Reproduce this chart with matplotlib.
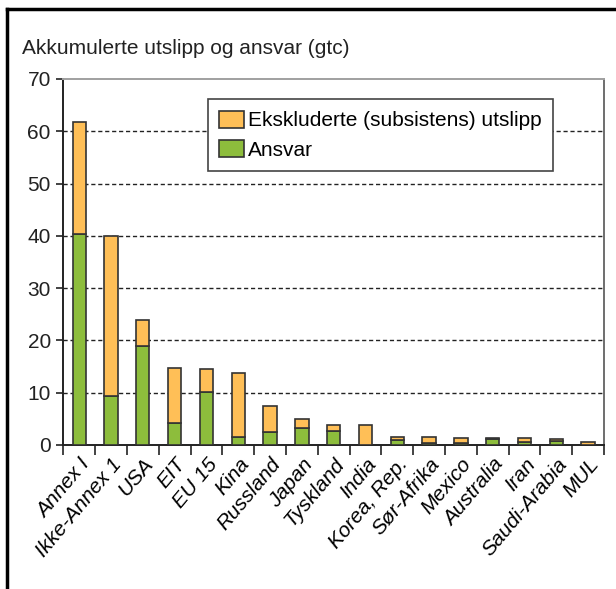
import matplotlib
matplotlib.use('Agg')
import matplotlib.pyplot as plt
import numpy as np
from matplotlib.lines import Line2D

plt.rcParams['font.family'] = ['Liberation Sans', 'DejaVu Sans']

# Data (gtc)
countries = ['Annex I', 'Ikke-Annex 1', 'USA', 'EIT', 'EU 15', 'Kina', 'Russland',
             'Japan', 'Tyskland', 'India', 'Korea, Rep.', 'Sør-Afrika', 'Mexico',
             'Australia', 'Iran', 'Saudi-Arabia', 'MUL']
ansvar = [40.3, 9.4, 18.9, 4.3, 10.2, 1.5, 2.4, 3.2, 2.7, 0.0, 1.0, 0.45, 0.45,
          1.1, 0.5, 0.7, 0.0]
total = [61.8, 40.0, 24.0, 14.7, 14.5, 13.8, 7.5, 4.9, 3.8, 3.8, 1.6, 1.6, 1.3,
         1.3, 1.3, 1.1, 0.5]
ekskludert = [t - a for t, a in zip(total, ansvar)]

orange = '#FFBF57'
green = '#8DBD3C'
edge = '#333333'
fs = 15

fig = plt.figure(figsize=(6.16, 5.89), dpi=100)
ax = fig.add_axes([63.3 / 616, 1 - 445 / 589, 540.7 / 616, 366 / 589])

x = np.arange(len(countries))
ax.bar(x, ansvar, width=0.42, color=green, edgecolor=edge, linewidth=1.2, zorder=3)
ax.bar(x, ekskludert, bottom=ansvar, width=0.42, color=orange, edgecolor=edge,
       linewidth=1.2, zorder=3)

ax.set_xlim(-0.5, len(countries) - 0.5)
ax.set_ylim(0, 70)
ax.set_yticks(range(0, 71, 10))
ax.tick_params(axis='y', labelsize=fs, length=5, width=1.2, pad=4, colors='#222222')

# labels centred under bars, tick marks between bars
ax.set_xticks(x)
ax.set_xticklabels(countries, rotation=50, ha='right', rotation_mode='anchor',
                   fontsize=fs, style='italic')
ax.tick_params(axis='x', which='major', length=0, pad=7)
ax.set_xticks(np.arange(-0.5, len(countries), 1), minor=True)
ax.tick_params(axis='x', which='minor', length=7, width=1.2, colors='#222222')

for y in range(10, 61, 10):
    ax.axhline(y, color='#222222', linestyle=(0, (3, 2)), linewidth=1, zorder=1)

ax.spines['left'].set_linewidth(1.4)
ax.spines['left'].set_color('#222222')
ax.spines['bottom'].set_linewidth(1.4)
ax.spines['bottom'].set_color('#222222')
ax.spines['top'].set_color('#a0a0a0')
ax.spines['top'].set_linewidth(1.4)
ax.spines['right'].set_color('#555555')
ax.spines['right'].set_linewidth(1.2)

handles = [plt.Rectangle((0, 0), 1, 1, facecolor=orange, edgecolor=edge, linewidth=1.2),
           plt.Rectangle((0, 0), 1, 1, facecolor=green, edgecolor=edge, linewidth=1.2)]
leg = ax.legend(handles, ['Ekskluderte (subsistens) utslipp', 'Ansvar'],
                loc='upper left', bbox_to_anchor=(0.267, 0.945), borderaxespad=0,
                fontsize=fs, fancybox=False, framealpha=1, edgecolor='#444444',
                handlelength=1.2, handleheight=0.9, handletextpad=0.2,
                labelspacing=0.45, borderpad=0.55)
leg.get_frame().set_linewidth(1.2)
leg.set_zorder(5)

fig.text(22 / 616, 1 - 48 / 589, 'Akkumulerte utslipp og ansvar (gtc)', fontsize=fs,
         va='center', ha='left', color='#222222')

# outer frame (left and top edges visible)
fig.add_artist(Line2D([7 / 616, 7 / 616], [0, 1 - 9 / 589], transform=fig.transFigure,
                      color='black', linewidth=2.5))
fig.add_artist(Line2D([7 / 616, 1], [1 - 9 / 589, 1 - 9 / 589], transform=fig.transFigure,
                      color='black', linewidth=2.5))

fig.savefig('out.png', dpi=100)
